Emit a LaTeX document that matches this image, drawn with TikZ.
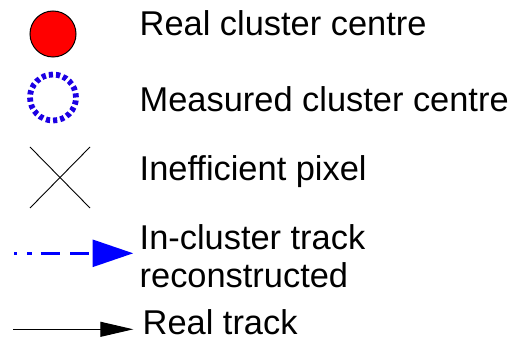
\documentclass[tikz,border=0pt]{standalone}
\usepackage{fontspec}
\setmainfont{Liberation Sans}
\usetikzlibrary{arrows.meta}
\definecolor{measblue}{RGB}{28,0,228}
\begin{document}
\begin{tikzpicture}[x=1pt,y=-1pt,
  lbl/.style={anchor=base west, inner sep=0pt, font=\fontsize{34.4}{38}\selectfont, align=left},
  realdot/.style={circle, fill=red, draw=black, line width=1pt, minimum size=46pt, inner sep=0pt},
  measdot/.style={circle, draw=measblue, line width=5.8pt, dash pattern=on 4.2pt off 3.02pt, minimum size=46pt, inner sep=0pt},
  crossline/.style={line width=0.9pt, black},
  recotrack/.style={blue, line width=3.3pt, dash pattern=on 3.3pt off 9.7pt on 5pt off 8.7pt on 19.3pt off 10pt on 19.3pt off 10pt, -{Triangle[length=40.6pt,width=26.7pt]}},
  realtrack/.style={black, line width=1pt, -{Triangle[length=33pt,width=15pt]}}
]
\useasboundingbox (0,0) rectangle (522,339);
% symbols
\node[realdot] (real) at (53,34) {};
\node[measdot] (meas) at (53,97.5) {};
\coordinate (xa) at (30,147);
\coordinate (xb) at (90,208);
\coordinate (xc) at (90,147);
\coordinate (xd) at (30,208);
\draw[crossline] (xa) -- (xb);
\draw[crossline] (xc) -- (xd);
\coordinate (ra) at (14,253.3);
\coordinate (rb) at (133.3,253.3);
\draw[recotrack] (ra) -- (rb);
\coordinate (ta) at (13.3,329.3);
\coordinate (tb) at (133.3,329.3);
\draw[realtrack] (ta) -- (tb);
% labels
\node[lbl] (l1) at (139.5,36) {Real cluster centre};
\node[lbl] (l2) at (139.5,112) {Measured cluster centre};
\node[lbl] (l3) at (139.5,181) {Inefficient pixel};
\node[lbl] (l4) at (139.5,287) {In-cluster track\\reconstructed};
\node[lbl, text depth=0pt] (l5) at (142.5,334) {Real track};
\end{tikzpicture}
\end{document}
